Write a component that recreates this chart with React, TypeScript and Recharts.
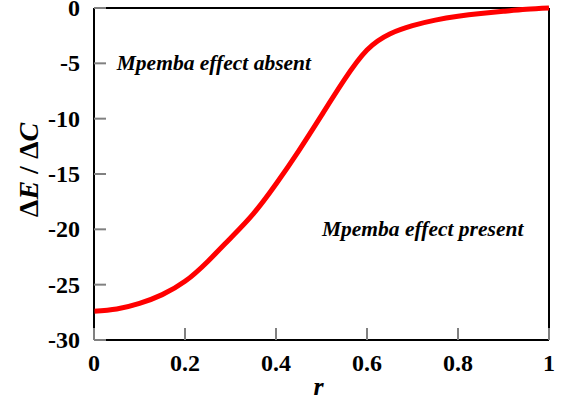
import React from "react";
import {
  LineChart,
  Line,
  XAxis,
  YAxis,
  ReferenceDot,
  ReferenceLine,
} from "recharts";

const rValues = [
  0, 0.05, 0.1, 0.15, 0.2, 0.25, 0.3, 0.35, 0.4, 0.45, 0.5, 0.55, 0.6, 0.65,
  0.7, 0.75, 0.8, 0.85, 0.9, 0.95, 1.0,
];
const deltaValues = [
  -27.4, -27.2, -26.7, -25.9, -24.7, -22.9, -20.8, -18.6, -15.9, -12.9, -9.7,
  -6.5, -3.8, -2.35, -1.6, -1.1, -0.75, -0.5, -0.3, -0.12, 0,
];
const xTicks = [0, 0.2, 0.4, 0.6, 0.8, 1];
const xTickLabels = ["0", "0.2", "0.4", "0.6", "0.8", "1"];
const yTicks = [0, -5, -10, -15, -20, -25, -30];
const yTickLabels = ["0", "-5", "-10", "-15", "-20", "-25", "-30"];
const xDomain = [0, 1];
const yDomain = [-30, 0];
const annotations = [
  { r: 0.05, v: -5, text: "Mpemba effect absent" },
  { r: 0.501, v: -20, text: "Mpemba effect present" },
];

const data = rValues.map((r, i) => ({ r, v: deltaValues[i] }));

const FONT = "Liberation Serif";
const TICK_COLOR = "#808080";
const TICK_LEN = 12;

const txtStyle = (size: number, italic = false): React.CSSProperties => ({
  fontFamily: FONT,
  fontWeight: "bold",
  fontSize: size,
  fontStyle: italic ? "italic" : "normal",
});

const BottomTick = (props: any) => {
  const { x, y, payload } = props;
  const idx = xTicks.indexOf(payload.value);
  return (
    <g>
      <line x1={x} x2={x} y1={y} y2={y - TICK_LEN} stroke={TICK_COLOR} strokeWidth={2} />
      <text
        x={x}
        y={y + 23}
        textAnchor="middle"
        dominantBaseline="central"
        style={txtStyle(24)}
        fill="#000"
      >
        {idx >= 0 ? xTickLabels[idx] : String(payload.value)}
      </text>
    </g>
  );
};

const TopTick = (props: any) => {
  const { x, y } = props;
  return <line x1={x} x2={x} y1={y} y2={y + TICK_LEN} stroke={TICK_COLOR} strokeWidth={2} />;
};

const LeftTick = (props: any) => {
  const { x, y, payload } = props;
  const idx = yTicks.indexOf(payload.value);
  return (
    <g>
      <line x1={x} x2={x + TICK_LEN} y1={y} y2={y} stroke={TICK_COLOR} strokeWidth={2} />
      <text
        x={x - 14}
        y={y}
        textAnchor="end"
        dominantBaseline="central"
        style={txtStyle(24)}
        fill="#000"
      >
        {idx >= 0 ? yTickLabels[idx] : String(payload.value)}
      </text>
    </g>
  );
};

const RightTick = (props: any) => {
  const { x, y } = props;
  return <line x1={x} x2={x - TICK_LEN} y1={y} y2={y} stroke={TICK_COLOR} strokeWidth={2} />;
};

const YLabel = (props: any) => {
  const vb = props.viewBox || { x: 0, y: 8, width: 94, height: 332 };
  const cx = vb.x + 28;
  const cy = vb.y + vb.height / 2 - 4;
  return (
    <text
      x={cx}
      y={cy}
      transform={`rotate(-90, ${cx}, ${cy})`}
      textAnchor="middle"
      dominantBaseline="central"
      style={txtStyle(28)}
      fill="#000"
    >
      <tspan>Δ</tspan>
      <tspan style={{ fontStyle: "italic" }}>E</tspan>
      <tspan> / Δ</tspan>
      <tspan style={{ fontStyle: "italic" }}>C</tspan>
    </text>
  );
};

const XLabel = (props: any) => {
  const vb = props.viewBox || { x: 94, y: 340, width: 455, height: 65 };
  const cx = vb.x + vb.width / 2 - 3;
  return (
    <text
      x={cx}
      y={vb.y + 46}
      textAnchor="middle"
      dominantBaseline="central"
      style={txtStyle(26, true)}
      fill="#000"
    >
      r
    </text>
  );
};

const makeAnnot = (text: string) => (props: any) => {
  const vb = props.viewBox || { x: 0, y: 0 };
  return (
    <text
      x={vb.x}
      y={vb.y}
      textAnchor="start"
      dominantBaseline="central"
      style={txtStyle(21.5, true)}
      fill="#000"
    >
      {text}
    </text>
  );
};

export default function App() {
  return (
    <div style={{ position: "absolute", left: 0, top: 0, background: "#fff" }}>
      <LineChart
        width={570}
        height={405}
        data={data}
        margin={{ top: 8, right: 21, bottom: 0, left: 0 }}
      >
        <XAxis
          xAxisId="b"
          dataKey="r"
          type="number"
          domain={xDomain}
          ticks={xTicks}
          interval={0}
          height={65}
          tickSize={0}
          tickMargin={0}
          tickLine={false}
          stroke="#000"
          tick={(p: any) => <BottomTick {...p} />}
          label={(p: any) => <XLabel {...p} />}
        />
        <XAxis
          xAxisId="t"
          dataKey="r"
          type="number"
          domain={xDomain}
          ticks={xTicks}
          interval={0}
          orientation="top"
          height={0}
          tickSize={0}
          tickMargin={0}
          tickLine={false}
          stroke="#000"
          tick={(p: any) => <TopTick {...p} />}
        />
        <YAxis
          yAxisId="l"
          type="number"
          domain={yDomain}
          ticks={yTicks}
          interval={0}
          width={94}
          tickSize={0}
          tickMargin={0}
          tickLine={false}
          stroke="#000"
          tick={(p: any) => <LeftTick {...p} />}
          label={(p: any) => <YLabel {...p} />}
        />
        <YAxis
          yAxisId="r"
          type="number"
          domain={yDomain}
          ticks={yTicks}
          interval={0}
          orientation="right"
          width={0}
          tickSize={0}
          tickMargin={0}
          tickLine={false}
          stroke="#000"
          tick={(p: any) => <RightTick {...p} />}
        />
        <ReferenceLine xAxisId="b" yAxisId="l" x={xDomain[0]} stroke="#000" strokeWidth={2} />
        <ReferenceLine xAxisId="b" yAxisId="l" x={xDomain[1]} stroke="#000" strokeWidth={2} />
        <ReferenceLine xAxisId="b" yAxisId="l" y={yDomain[0]} stroke="#000" strokeWidth={2} />
        <ReferenceLine xAxisId="b" yAxisId="l" y={yDomain[1]} stroke="#000" strokeWidth={2} />
        <Line
          xAxisId="b"
          yAxisId="l"
          dataKey="v"
          type="natural"
          stroke="#ff0000"
          strokeWidth={5}
          dot={false}
          isAnimationActive={false}
        />
        {annotations.map((a) => (
          <ReferenceDot
            key={a.text}
            xAxisId="b"
            yAxisId="l"
            x={a.r}
            y={a.v}
            r={0}
            fill="none"
            stroke="none"
            label={makeAnnot(a.text)}
          />
        ))}
      </LineChart>
    </div>
  );
}
